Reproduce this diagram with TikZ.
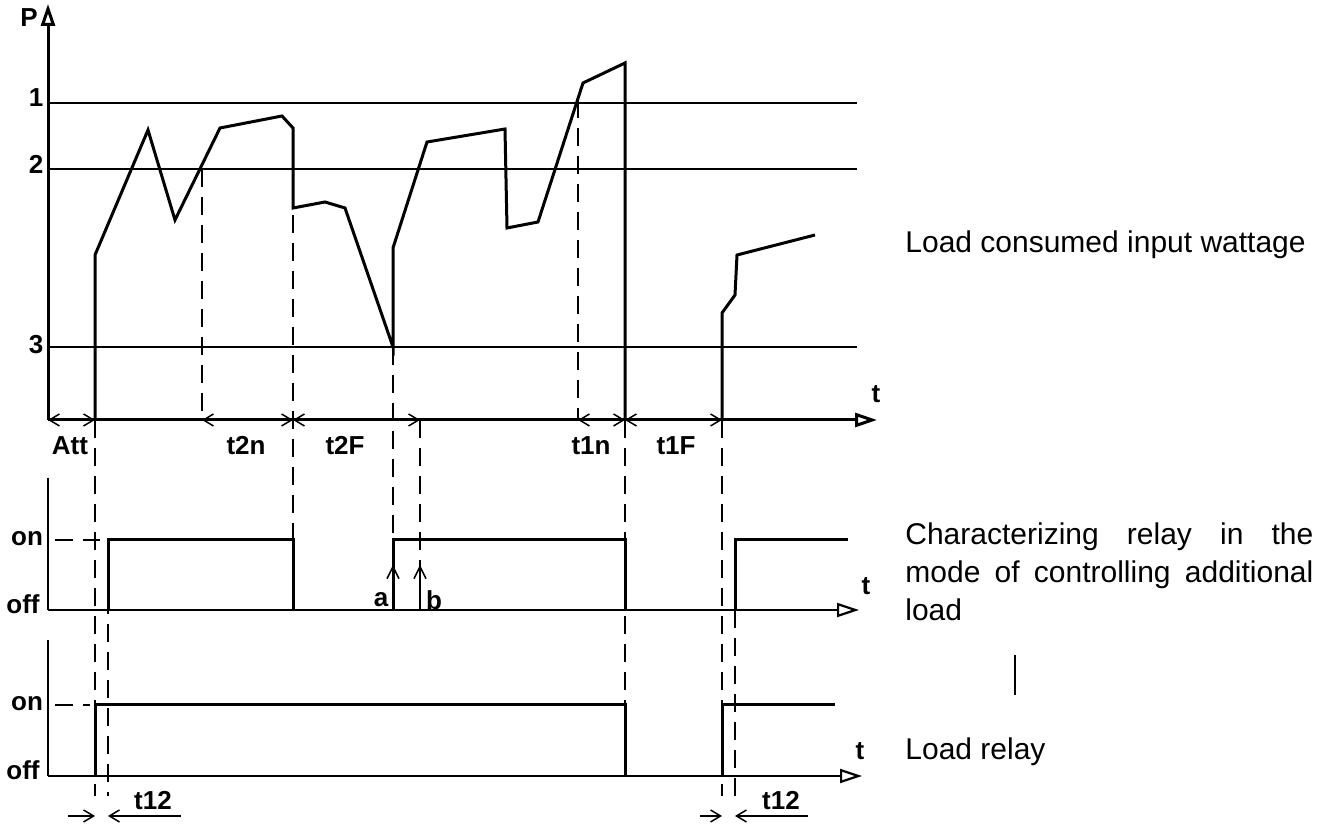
\documentclass[tikz,border=0pt]{standalone}
\usepackage{fontspec}
\setmainfont{Liberation Sans}
\usetikzlibrary{arrows.meta}
\tikzset{
	wave/.style={line width=1.5pt,line join=miter},
	thin/.style={line width=0.75pt},
	guide/.style={line width=0.75pt,dash pattern=on 9pt off 5pt},
	axis/.style={line width=1.1pt,-{Triangle[open,length=11pt,width=7pt]}},
	dim/.style={line width=0.75pt,{Straight Barb[length=5pt,width=6pt]}-{Straight Barb[length=5pt,width=6pt]}},
	lbl/.style={font=\fontsize{13}{15}\selectfont\bfseries,inner sep=1pt},
	txt/.style={font=\fontsize{15}{19}\selectfont,anchor=west,inner sep=0pt}
}
\begin{document}
	\begin{tikzpicture}[x=0.5pt,y=-0.5pt]
		\useasboundingbox (0,0) rectangle (1330,838);
		
		% upper plot
		\draw[line width=1.5pt,-{Triangle[open,length=11pt,width=7pt]}] (48,420) -- (48,4);
		\draw[axis,line width=1.5pt] (48,420) -- (877,420);
		\draw[thin] (48,103) -- (857,103);
		\draw[thin] (48,169) -- (857,169);
		\draw[thin] (48,347) -- (857,347);
		\node[lbl] (p) at (29,18) {P};
		\node[lbl] (l1) at (36,98) {1};
		\node[lbl] (l2) at (36,164) {2};
		\node[lbl] (l3) at (36,345) {3};
		\node[lbl] (tp) at (876,394) {t};
		
		\draw[wave] (95,420) -- (95,255) -- (148,130) -- (175,220) -- (220,128)
		-- (282,116) -- (293,128) -- (293,208) -- (325,202) -- (345,208)
		-- (393,347) -- (393,248) -- (427,142) -- (505,129) -- (507,228)
		-- (538,222) -- (583,83) -- (625,63) -- (625,420);
		\draw[wave] (722,420) -- (722,313) -- (735,295) -- (737,255) -- (815,235);
		
		% guide lines
		\draw[guide] (202,169) -- (202,420);
		\draw[guide] (293,215) -- (293,540);
		\draw[guide] (393,347) -- (393,610);
		\draw[guide] (420,420) -- (420,610);
		\draw[guide] (578,100) -- (578,420);
		\draw[guide] (625,420) -- (625,776);
		\draw[guide] (722,420) -- (722,796);
		\draw[guide] (95,420) -- (95,796);
		\draw[guide] (108,540) -- (108,796);
		\draw[guide] (735,610) -- (735,796);
		
		% intervals
		\draw[dim] (48,420) -- (95,420);
		\draw[dim] (202,420) -- (293,420);
		\draw[dim] (293,420) -- (420,420);
		\draw[dim] (578,420) -- (625,420);
		\draw[dim] (625,420) -- (722,420);
		\node[lbl] (att) at (70,446) {Att};
		\node[lbl] (t2n) at (246,446) {t2n};
		\node[lbl] (t2f) at (345,446) {t2F};
		\node[lbl] (t1n) at (591,446) {t1n};
		\node[lbl] (t1f) at (676,446) {t1F};
		
		% middle plot
		\draw[thin] (48,478) -- (48,610);
		\draw[axis] (48,610) -- (859,610);
		\draw[guide] (55,540) -- (100,540);
		\node[lbl] (on1) at (27,539) {on};
		\node[lbl] (off1) at (23,604) {off};
		\node[lbl] (tm) at (866,586) {t};
		\draw[wave] (108,610) -- (108,540) -- (293,540) -- (293,610);
		\draw[wave] (393,610) -- (393,540) -- (625,540) -- (625,610);
		\draw[wave] (735,610) -- (735,540) -- (848,540);
		\draw[thin,-{Straight Barb[length=6pt,width=6pt]}] (393,600) -- (393,565);
		\draw[thin,-{Straight Barb[length=6pt,width=6pt]}] (420,610) -- (420,565);
		\node[lbl] (a) at (381,600) {a};
		\node[lbl] (b) at (434,600) {b};
		
		% lower plot
		\draw[thin] (48,640) -- (48,776);
		\draw[axis] (48,776) -- (862,776);
		\draw[guide] (55,705) -- (90,705);
		\node[lbl] (on2) at (27,704) {on};
		\node[lbl] (off2) at (23,770) {off};
		\node[lbl] (tb) at (860,751) {t};
		\draw[wave] (95,776) -- (95,705) -- (625,705) -- (625,776);
		\draw[wave] (722,776) -- (722,705) -- (835,705);
		
		% delays
		\draw[thin,-{Straight Barb[length=5pt,width=6pt]}] (68,816) -- (95,816);
		\draw[thin,-{Straight Barb[length=5pt,width=6pt]}] (181,816) -- (108,816);
		\draw[thin,-{Straight Barb[length=5pt,width=6pt]}] (700,816) -- (722,816);
		\draw[thin,-{Straight Barb[length=5pt,width=6pt]}] (808,816) -- (735,816);
		\node[lbl] (d1) at (153,801) {t12};
		\node[lbl] (d2) at (781,801) {t12};
		
		% captions
		\node[txt] (c1) at (905,245) {Load consumed input wattage};
		\node[txt,text width=204pt,anchor=north west] (c2) at (905,522)
		{\makebox[204pt][l]{Characterizing\hfill relay\hfill in\hfill the}\\
		\makebox[204pt][l]{mode\hfill of\hfill controlling\hfill additional}\\load};
		\node[txt] (c3) at (905,752) {Load relay};
		\draw[thin] (1015,655) -- (1015,695);
	\end{tikzpicture}
\end{document}
